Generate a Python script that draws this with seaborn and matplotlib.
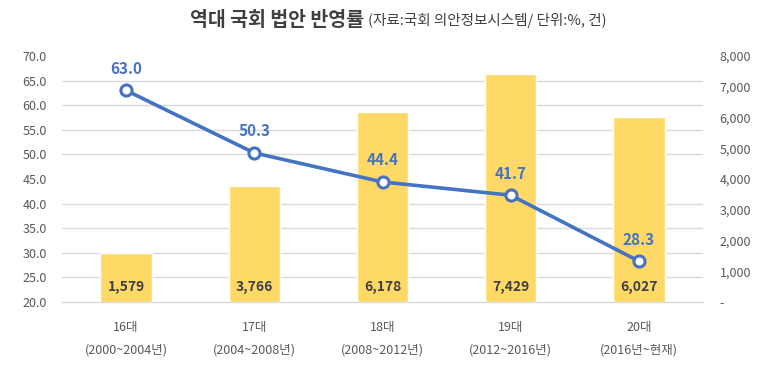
import numpy as np
import seaborn as sns
import matplotlib.pyplot as plt
from matplotlib.ticker import FuncFormatter

# data
terms = ['16대', '17대', '18대', '19대', '20대']
periods = ['(2000~2004년)', '(2004~2008년)', '(2008~2012년)', '(2012~2016년)', '(2016년~현재)']
bills = [1579, 3766, 6178, 7429, 6027]          # 건 (right axis)
rates = [63.0, 50.3, 44.4, 41.7, 28.3]          # % (left axis)

BLUE = '#4472C4'
GOLD = '#FFD966'
GRID = '#D9D9D9'
TXT = '#595959'

sns.set_theme(style='white')
plt.rcParams['font.family'] = ['Noto Sans CJK KR', 'DejaVu Sans']

fig, ax = plt.subplots(figsize=(7.73, 3.71), dpi=100)
fig.subplots_adjust(left=62/773, right=703/773, bottom=1-302/371, top=1-56/371)
ax2 = ax.twinx()

# bars on the right axis, drawn behind the line axis
labels = [f'{t}\n{p}' for t, p in zip(terms, periods)]
sns.barplot(x=labels, y=bills, ax=ax2, color=GOLD, width=0.4, saturation=1, zorder=2)
ax2.set_ylim(0, 8000)
ax2.set_yticks(np.arange(0, 8001, 1000))
ax2.yaxis.set_major_formatter(FuncFormatter(lambda v, p: '-' if v == 0 else f'{int(v):,}'))
ax2.set_yticks(np.arange(0, 8001, 800), minor=True)
ax2.grid(True, which='minor', axis='y', color=GRID, lw=1)
ax2.grid(False, which='major')
ax2.set_axisbelow(True)
ax2.tick_params(axis='y', which='both', length=0, pad=12, labelsize=9, labelcolor=TXT)
ax2.set_ylabel('')
for i, b in enumerate(bills):
    ax2.annotate(f'{b:,}', (i, 0), xytext=(0, 11), textcoords='offset points',
                 ha='center', va='center', fontsize=10, fontweight='bold', color='#404040')

# line on the left axis
ax.set_zorder(ax2.get_zorder() + 1)
ax.patch.set_visible(False)
sns.lineplot(x=np.arange(len(rates)), y=rates, ax=ax, color=BLUE, lw=2.6, marker='o',
             markersize=8, markerfacecolor='white', markeredgecolor=BLUE, markeredgewidth=2.2)
for i, r in enumerate(rates):
    ax.annotate(f'{r:.1f}', (i, r), xytext=(0, 15.5), textcoords='offset points',
                ha='center', va='center', fontsize=11, fontweight='bold', color=BLUE)
ax.set_ylim(20, 70)
ax.set_yticks(np.arange(20, 70.1, 5))
ax.yaxis.set_major_formatter(FuncFormatter(lambda v, p: f'{v:.1f}'))
ax.tick_params(axis='y', length=0, pad=11, labelsize=9, labelcolor=TXT)

ax.set_xlim(-0.5, 4.5)
ax.set_xticks(np.arange(5))
ax.set_xticklabels(labels, linespacing=1.9)
ax.set_xticks(np.arange(-0.5, 5, 1), minor=True)
ax.tick_params(axis='x', which='major', length=0, pad=14, labelsize=9, labelcolor=TXT)
ax.tick_params(axis='x', which='minor', length=4, width=1, color=GRID)

for a in (ax, ax2):
    for s in ['top', 'left', 'right', 'bottom']:
        a.spines[s].set_visible(False)
ax.spines['bottom'].set_visible(True)
ax.spines['bottom'].set_color(GRID)
ax.spines['bottom'].set_linewidth(1)

# title in two parts
t1 = fig.text(190/773, 1-20/371, '역대 국회 법안 반영률', fontsize=14, fontweight='bold',
              color='#404040', ha='left', va='center')
fig.canvas.draw()
bb = t1.get_window_extent()
fig.text(bb.x1/fig.bbox.width + 4/773, 1-21/371, '(자료:국회 의안정보시스템/ 단위:%, 건)',
         fontsize=10.5, color='#404040', ha='left', va='center')

plt.savefig('out.png', dpi=100)
